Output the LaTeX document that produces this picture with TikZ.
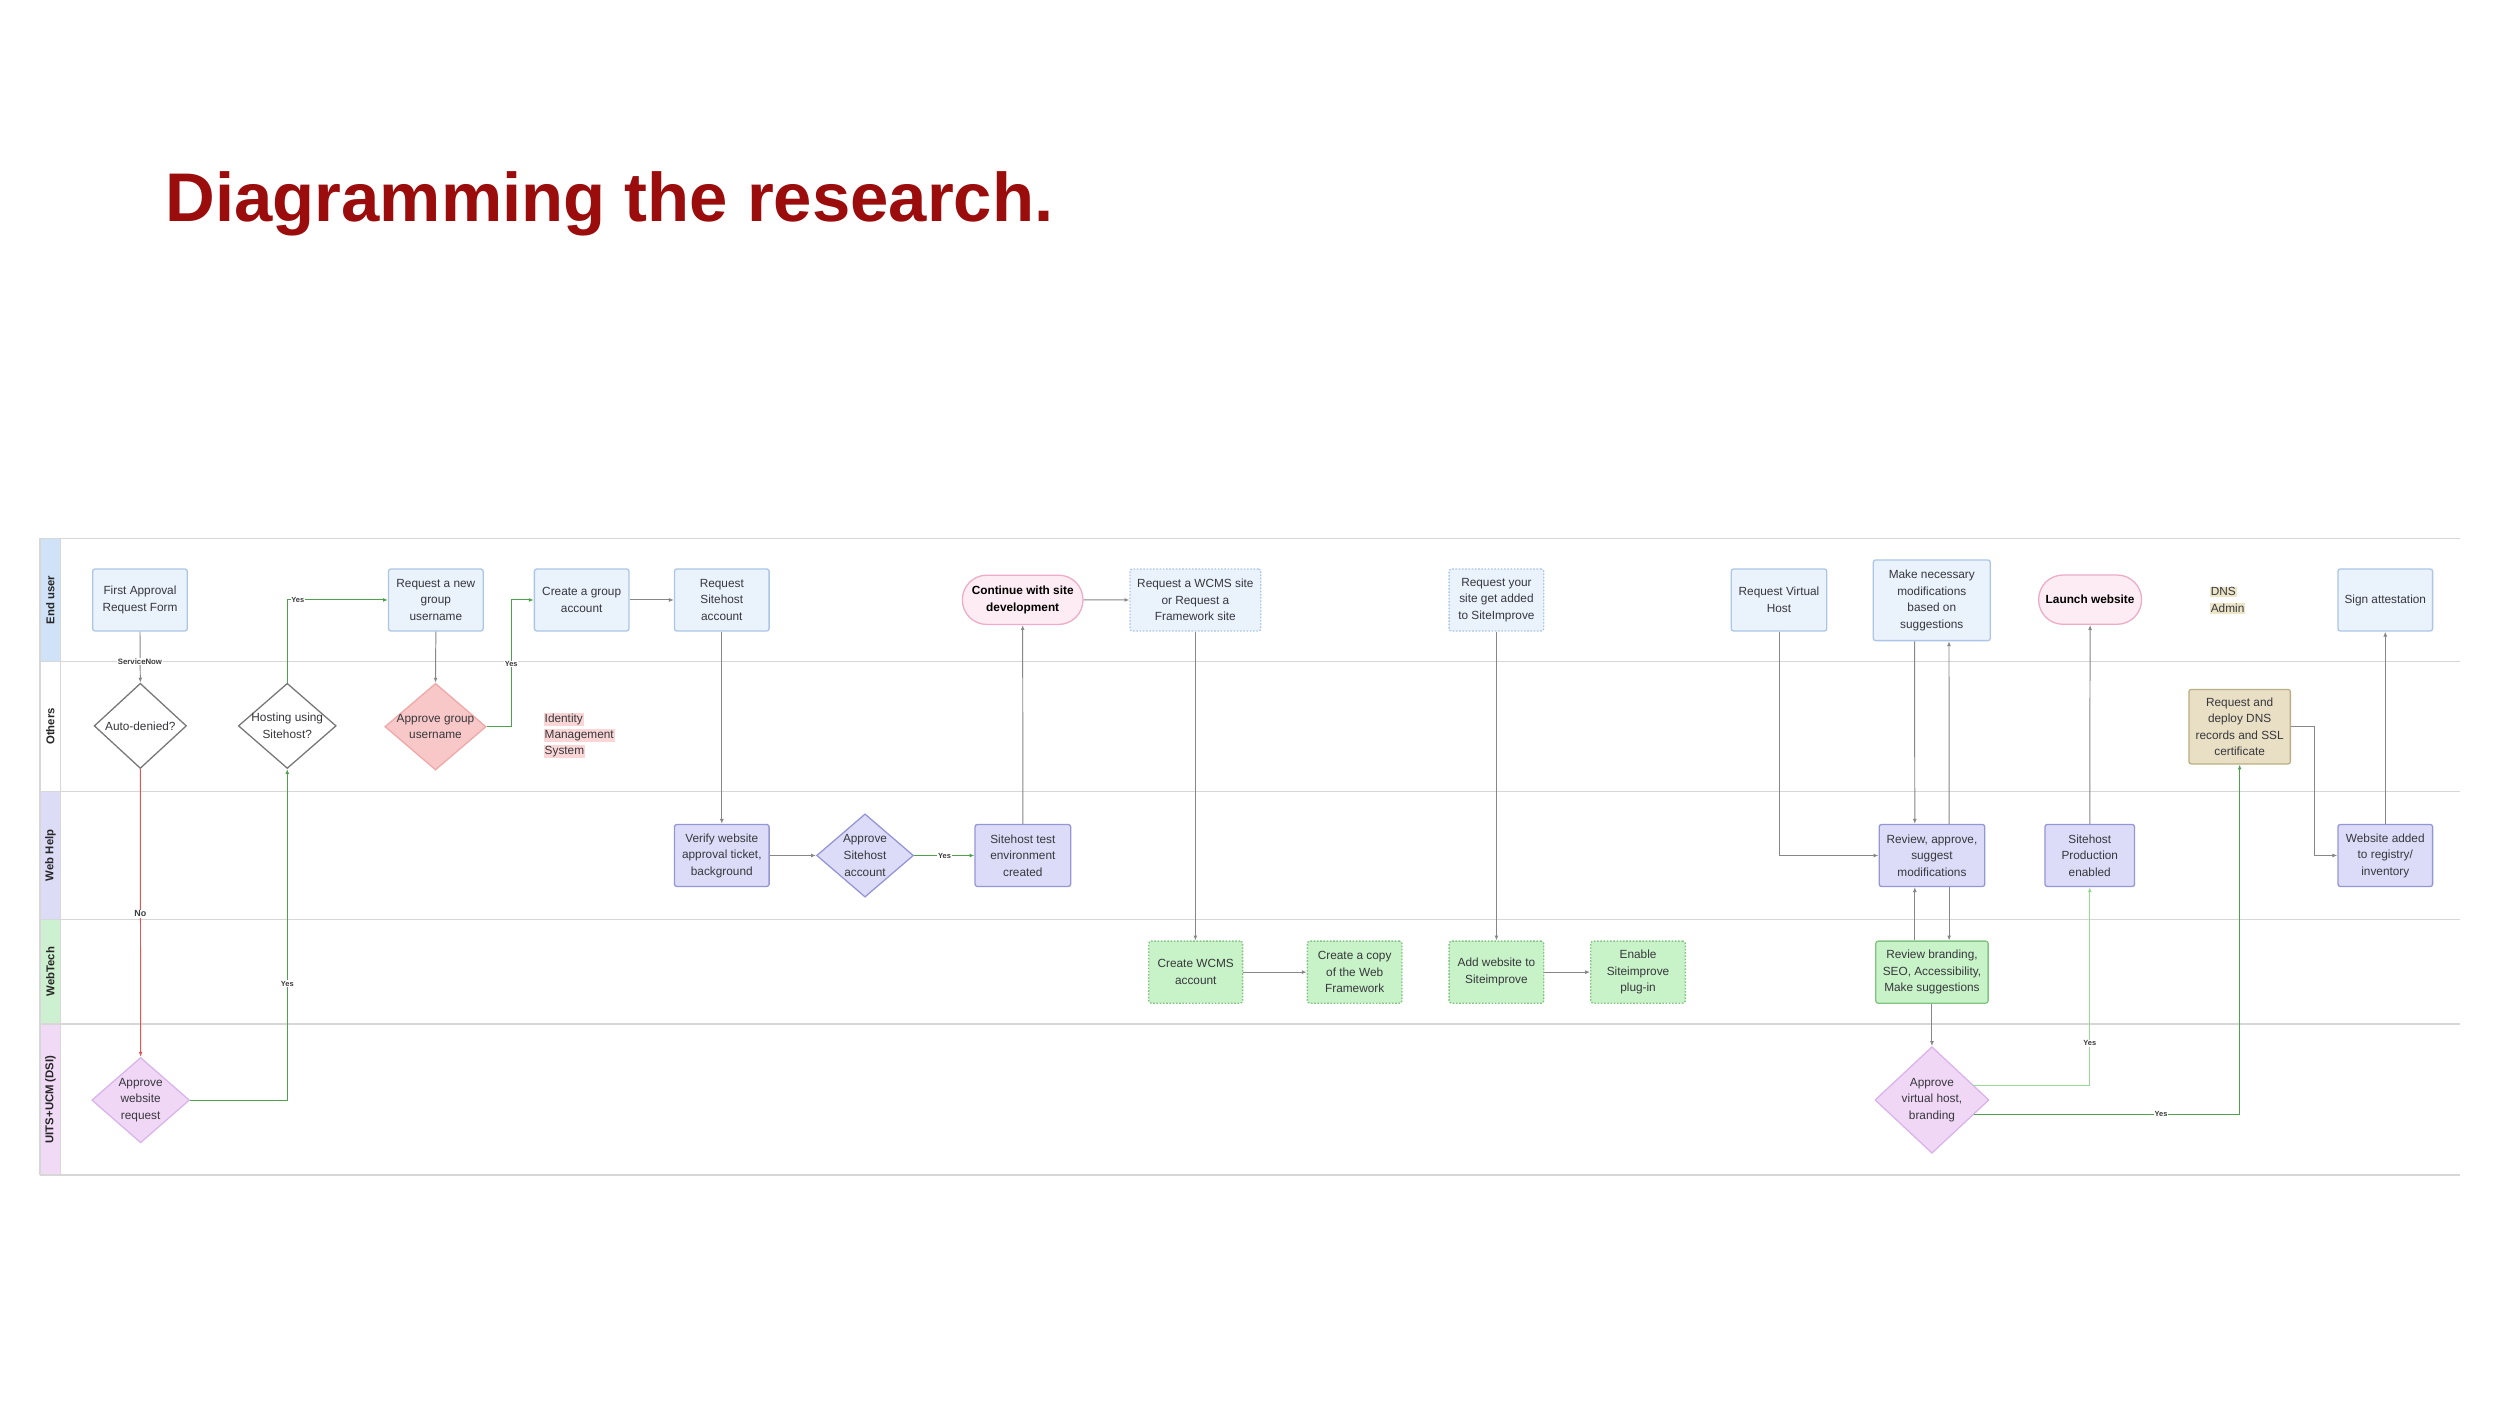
\documentclass[tikz,border=0pt]{standalone}
\usepackage{fontspec}
\setmainfont{Liberation Sans}
\usetikzlibrary{shapes.geometric,arrows.meta,calc}
\definecolor{titlec}{RGB}{155,12,12}
\definecolor{txtc}{RGB}{55,55,60}
\definecolor{ufill}{RGB}{234,242,252}
\definecolor{uline}{RGB}{172,198,232}
\definecolor{hfill}{RGB}{220,220,248}
\definecolor{hline}{RGB}{150,150,215}
\definecolor{gfill}{RGB}{200,242,200}
\definecolor{gline}{RGB}{130,196,130}
\definecolor{pkfill}{RGB}{248,200,200}
\definecolor{pkline}{RGB}{240,168,168}
\definecolor{pufill}{RGB}{240,215,246}
\definecolor{puline}{RGB}{218,180,234}
\definecolor{plfill}{RGB}{253,236,243}
\definecolor{plline}{RGB}{238,172,200}
\definecolor{tnfill}{RGB}{232,223,196}
\definecolor{tnline}{RGB}{188,174,132}
\definecolor{tnhl}{RGB}{236,229,200}
\definecolor{imshl}{RGB}{250,214,214}
\definecolor{s1}{RGB}{207,226,247}
\definecolor{s3}{RGB}{220,220,247}
\definecolor{s4}{RGB}{205,240,208}
\definecolor{s5}{RGB}{240,218,246}
\definecolor{sepc}{RGB}{215,215,215}
\definecolor{grayc}{RGB}{135,135,135}
\definecolor{dgray}{RGB}{120,120,120}
\definecolor{redc}{RGB}{225,85,85}
\definecolor{greenc}{RGB}{78,162,78}
\definecolor{lgreenc}{RGB}{150,218,150}
\definecolor{labc}{RGB}{60,60,60}
\tikzset{
  base/.style={rectangle, rounded corners=1.5pt, line width=0.8pt, align=center, inner sep=0pt,
    text=txtc, font=\fontsize{7.3}{10.2}\selectfont, minimum width=58.4pt, minimum height=38.3pt},
  ubox/.style={base, fill=ufill, draw=uline},
  udot/.style={base, fill=ufill, draw=uline, dash pattern=on 1pt off 1pt},
  hbox/.style={base, fill=hfill, draw=hline},
  gdot/.style={base, fill=gfill, draw=gline, dash pattern=on 1pt off 1pt},
  gbox/.style={base, fill=gfill, draw=gline},
  tbox/.style={base, fill=tnfill, draw=tnline},
  pill/.style={base, rounded corners=15pt, fill=plfill, draw=plline, text=black,
    font=\bfseries\fontsize{7.3}{10.2}\selectfont, minimum height=30.4pt},
  dia/.style={diamond, line width=0.8pt, inner sep=0pt},
  dwhite/.style={dia, fill=white, draw=dgray},
  dpink/.style={dia, fill=pkfill, draw=pkline},
  dpurple/.style={dia, fill=pufill, draw=puline},
  dlav/.style={dia, fill=hfill, draw=hline},
  dtxt/.style={align=center, inner sep=0pt, text=txtc, font=\fontsize{7.3}{10.2}\selectfont},
  hltxt/.style={anchor=west, inner sep=0pt, text=txtc, font=\fontsize{7.3}{9.9}\selectfont},
  conn/.style={draw=grayc, line width=0.6pt, -{Latex[length=3pt,width=2.4pt]}},
  gconn/.style={conn, draw=greenc},
  lgconn/.style={conn, draw=lgreenc},
  rconn/.style={conn, draw=redc},
  elab/.style={font=\bfseries\fontsize{4.6}{5}\selectfont, text=labc, fill=white, inner sep=0.5pt},
  lanelab/.style={rotate=90, font=\bfseries\fontsize{7}{8}\selectfont, text=black!85, inner sep=0pt},
  sep/.style={draw=sepc, line width=0.8pt},
}
\setlength{\fboxsep}{0.6pt}
\begin{document}
\begin{tikzpicture}[x=1pt,y=-1pt]
\useasboundingbox (0,0) rectangle (1543,868);
\fill[white] (0,0) rectangle (1543,868);

% title
\node[anchor=base west, inner sep=0pt, font=\bfseries\fontsize{42.5}{50}\selectfont, text=titlec] (title) at (102,136.8) {Diagramming the research.};

% lanes
\fill[s1] (24.7,332.3) rectangle (37.5,408.4);
\fill[s3] (24.7,488.3) rectangle (37.5,567.4);
\fill[s4] (24.7,567.4) rectangle (37.5,632);
\fill[s5] (24.7,632) rectangle (37.5,725.2);
\foreach \yy in {332.3,408.4,488.3,567.4,632,725.2} {\draw[sep] (24.7,\yy) -- (1518,\yy);}
\draw[sep] (24.7,332.3) -- (24.7,725.2);
\draw[sep] (37.5,332.3) -- (37.5,725.2);
\node[lanelab] (lane1) at (31.1,370.4) {End user};
\node[lanelab] (lane2) at (31.1,448.4) {Others};
\node[lanelab] (lane3) at (31.1,527.9) {Web Help};
\node[lanelab] (lane4) at (31.1,599.7) {WebTech};
\node[lanelab] (lane5) at (31.1,678.6) {UITS+UCM (DSI)};

% nodes
\node[ubox] (first) at (86.4,370.3) {First Approval\\Request Form};
\node[dwhite, minimum width=57pt, minimum height=52.6pt] (auto) at (86.6,448) {};
\node[dtxt] (autot) at (auto) {Auto-denied?};
\node[dwhite, minimum width=60.4pt, minimum height=52.6pt] (host) at (177.3,448) {};
\node[dtxt] (hostt) at (host) {Hosting using\\Sitehost?};
\node[ubox] (reqgrp) at (269,370.3) {Request a new\\group\\username};
\node[dpink, minimum width=62.5pt, minimum height=53.5pt] (appgrp) at (268.8,448.5) {};
\node[dtxt] (appgrpt) at (appgrp) {Approve group\\username};
\node[hltxt] (ims) at (335.4,453.7)
  {\begin{tabular}{@{}l@{}}\colorbox{imshl}{Identity}\\\colorbox{imshl}{Management}\\\colorbox{imshl}{System}\end{tabular}};
\node[ubox] (crgrp) at (359,370.3) {Create a group\\account};
\node[ubox] (reqsh) at (445.5,370.3) {Request\\Sitehost\\account};
\node[hbox] (verify) at (445.5,528) {Verify website\\approval ticket,\\background};
\node[dlav, minimum width=59.8pt, minimum height=51.4pt] (appsh) at (533.9,528) {};
\node[dtxt] (appsht) at (appsh) {Approve\\Sitehost\\account};
\node[hbox, minimum width=59pt] (shtest) at (631.3,528) {Sitehost test\\environment\\created};
\node[pill, minimum width=74.4pt] (cont) at (631.2,370.2) {Continue with site\\development};
\node[udot, minimum width=80.7pt] (wcms) at (737.8,370.3) {Request a WCMS site\\or Request a\\Framework site};
\node[gdot, minimum width=57.9pt] (crwcms) at (738,600) {Create WCMS\\account};
\node[gdot] (copy) at (836.1,600) {Create a copy\\of the Web\\Framework};
\node[udot] (reqsi) at (923.6,370.3) {Request your\\site get added\\to SiteImprove};
\node[gdot] (addsi) at (923.6,600) {Add website to\\Siteimprove};
\node[gdot] (ensi) at (1011,600) {Enable\\Siteimprove\\plug-in};
\node[ubox, minimum width=59pt] (vhost) at (1098,370.3) {Request Virtual\\Host};
\node[ubox, minimum width=72.2pt, minimum height=49.8pt] (mods) at (1192.3,370.5) {Make necessary\\modifications\\based on\\suggestions};
\node[hbox, minimum width=65.2pt] (review) at (1192.4,528) {Review, approve,\\suggest\\modifications};
\node[gbox, minimum width=69.3pt] (brand) at (1192.4,600) {Review branding,\\SEO, Accessibility,\\Make suggestions};
\node[dpurple, minimum width=70.4pt, minimum height=65.8pt] (appvh) at (1192.4,678.9) {};
\node[dtxt] (appvht) at (appvh) {Approve\\virtual host,\\branding};
\node[pill, minimum width=63.5pt] (launch) at (1290,370.1) {Launch website};
\node[hbox, minimum width=55.3pt] (prod) at (1289.8,528) {Sitehost\\Production\\enabled};
\node[hltxt, font=\fontsize{7.3}{10.3}\selectfont] (dnsadm) at (1363.7,370.8)
  {\begin{tabular}{@{}l@{}}\colorbox{tnhl}{DNS}\\\colorbox{tnhl}{Admin}\end{tabular}};
\node[tbox, minimum width=62.6pt, minimum height=46pt] (dnsbox) at (1382.3,448.5) {Request and\\deploy DNS\\records and SSL\\certificate};
\node[ubox] (sign) at (1472.2,370.3) {Sign attestation};
\node[hbox] (added) at (1472.2,528) {Website added\\to registry/\\inventory};
\node[dpurple, minimum width=60.3pt, minimum height=52.7pt] (appweb) at (86.8,679) {};
\node[dtxt] (appwebt) at (appweb) {Approve\\website\\request};

% connectors
\draw[conn] (first.south) -- (auto.north);
\draw[rconn] (auto.south) -- (appweb.north);
\draw[gconn] (appweb.east) -| (host.south);
\draw[gconn] (host.north) |- (reqgrp.west);
\draw[conn] (reqgrp.south) -- (appgrp.north);
\draw[gconn] (appgrp.east) -- ++(15.5,0) |- (crgrp.west);
\draw[conn] (crgrp.east) -- (reqsh.west);
\draw[conn] (reqsh.south) -- (verify.north);
\draw[conn] (verify.east) -- (appsh.west);
\draw[gconn] (appsh.east) -- (shtest.west);
\draw[conn] (shtest.north) -- (cont.south);
\draw[conn] (cont.east) -- (wcms.west);
\draw[conn] (wcms.south) -- (wcms.south |- crwcms.north);
\draw[conn] (crwcms.east) -- (copy.west);
\draw[conn] (reqsi.south) -- (addsi.north);
\draw[conn] (addsi.east) -- (ensi.west);
\draw[conn] (vhost.south) |- (review.west);
\draw[conn] ([xshift=-10.6pt]mods.south) -- ([xshift=-10.6pt]review.north);
\draw[conn] ([xshift=10.6pt]review.north) -- ([xshift=10.6pt]mods.south);
\draw[conn] ([xshift=-10.6pt]brand.north) -- ([xshift=-10.6pt]review.south);
\draw[conn] ([xshift=10.6pt]review.south) -- ([xshift=10.6pt]brand.north);
\draw[conn] (brand.south) -- (appvh.north);
\draw[lgconn] ($(appvh)+(25.4,-9.2)$) -| (prod.south);
\draw[gconn] ($(appvh)+(25.9,8.7)$) -| (dnsbox.south);
\draw[conn] (prod.north) -- (launch.south);
\draw[conn] (dnsbox.east) -- ++(14.4,0) |- (added.west);
\draw[conn] (added.north) -- (sign.south);

% edge labels
\node[elab, font=\bfseries\fontsize{4.8}{5}\selectfont] (lsn) at (86.4,408.4) {ServiceNow};
\node[elab, font=\bfseries\fontsize{5.5}{6}\selectfont] (lno) at (86.6,564) {No};
\node[elab] (ly1) at (177.3,607) {Yes};
\node[elab] (ly2) at (183.8,370.3) {Yes};
\node[elab] (ly3) at (315.5,409.8) {Yes};
\node[elab] (ly4) at (583,528) {Yes};
\node[elab] (ly5) at (1289.8,643.8) {Yes};
\node[elab] (ly6) at (1333.8,687.6) {Yes};
\end{tikzpicture}
\end{document}
